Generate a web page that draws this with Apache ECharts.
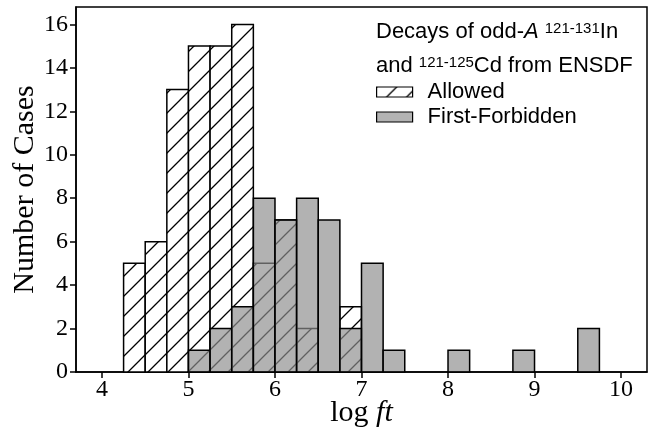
<!DOCTYPE html>
<html>
<head>
<meta charset="utf-8">
<script src="https://cdn.jsdelivr.net/npm/echarts@6/dist/echarts.min.js"></script>
<style>html,body{margin:0;padding:0;background:#fff}#c{width:656px;height:432px}</style>
</head>
<body>
<div id="c"></div>
<script>
// ---- data ----
var binWidth = 0.25;
var allowedBins   = [4.25, 4.5, 4.75, 5.0, 5.25, 5.5, 5.75, 6.0, 6.25, 6.75];
var allowedCounts = [5,    6,   13,   15,  15,   16,  5,    7,   2,    3];
var forbiddenBins   = [5.0, 5.25, 5.5, 5.75, 6.0, 6.25, 6.5, 6.75, 7.0, 7.25, 8.0, 8.75, 9.5];
var forbiddenCounts = [1,   2,    3,   8,    7,   8,    7,   2,    5,   1,    1,   1,    2];
var xTicks = [4, 5, 6, 7, 8, 9, 10];
var seriesNames = ['Allowed', 'First-Forbidden'];

// hatch pattern
var tile = document.createElement('canvas');
tile.width = 20; tile.height = 20;
var g = tile.getContext('2d');
g.fillStyle = '#fff'; g.fillRect(0, 0, 20, 20);
g.strokeStyle = '#000'; g.lineWidth = 1.3;
g.beginPath();
g.moveTo(-5, 25); g.lineTo(25, -5);
g.moveTo(-5, 5); g.lineTo(5, -5);
g.moveTo(15, 25); g.lineTo(25, 15);
g.stroke();
var hatch = { image: tile, repeat: 'repeat' };
var grayFill = 'rgba(142,142,142,0.68)';

function toData(bins, counts) {
  var d = [];
  for (var i = 0; i < bins.length; i++) d.push([bins[i], counts[i]]);
  return d;
}
function makeRender(fill) {
  return function (params, api) {
    var x0 = api.value(0), y = api.value(1);
    var p0 = api.coord([x0, y]);
    var p1 = api.coord([x0 + binWidth, 0]);
    return {
      type: 'rect',
      shape: { x: p0[0], y: p0[1], width: p1[0] - p0[0], height: p1[1] - p0[1] },
      style: { fill: fill, stroke: '#000', lineWidth: 1.5 }
    };
  };
}

var sans = 'Liberation Sans';
var richTitle = {
  n: { fontFamily: sans, fontSize: 22, color: '#000', verticalAlign: 'bottom', lineHeight: 22 },
  i: { fontFamily: sans, fontSize: 22, fontStyle: 'italic', color: '#000', verticalAlign: 'bottom', lineHeight: 22 },
  sup: { fontFamily: sans, fontSize: 15, color: '#000', verticalAlign: 'top', lineHeight: 22 }
};

var chart = echarts.init(document.getElementById('c'), null, { renderer: 'canvas' });
chart.setOption({
  animation: false,
  backgroundColor: '#fff',
  title: {
    text: '{n|Decays of odd-}{i|A}{n| }{sup|121-131}{n|In}',
    subtext: '{n|and }{sup|121-125}{n|Cd from ENSDF}',
    left: 376, top: 21, padding: 0, itemGap: 12,
    textStyle: { fontFamily: sans, fontSize: 22, fontWeight: 'normal', color: '#000', lineHeight: 22, rich: richTitle },
    subtextStyle: { fontFamily: sans, fontSize: 22, color: '#000', lineHeight: 22, rich: richTitle }
  },
  legend: {
    orient: 'vertical',
    left: 376, top: 81, padding: 0,
    itemWidth: 36, itemHeight: 10, itemGap: 3,
    icon: 'rect',
    data: seriesNames,
    textStyle: { fontFamily: sans, fontSize: 22, color: '#000', lineHeight: 22, padding: [0, 0, 0, 10] },
    itemStyle: { borderColor: '#000', borderWidth: 1.2 }
  },
  grid: { left: 76, right: 9, top: 7, bottom: 60, outerBoundsMode: 'none', containLabel: false,
    show: true, borderColor: '#000', borderWidth: 1.5, backgroundColor: 'transparent' },
  xAxis: {
    type: 'value', min: 3.7, max: 10.3,
    splitLine: { show: false },
    axisLine: { lineStyle: { color: '#000', width: 1.5 } },
    axisTick: { show: true, customValues: xTicks, length: 6, inside: false, lineStyle: { color: '#000', width: 1.5 } },
    axisLabel: { customValues: xTicks, fontFamily: 'Liberation Serif', fontSize: 24, color: '#000', margin: 6 },
    name: 'log {i|ft}', nameLocation: 'middle', nameGap: 26, nameMoveOverlap: false,
    nameTextStyle: { fontFamily: 'Liberation Serif', fontSize: 30, color: '#000',
      rich: { i: { fontFamily: 'Liberation Serif', fontSize: 30, fontStyle: 'italic', color: '#000' } } }
  },
  yAxis: {
    type: 'value', min: 0, max: 16.8, interval: 2,
    splitLine: { show: false },
    axisLine: { show: true, lineStyle: { color: '#000', width: 1.5 } },
    axisTick: { show: true, length: 6, lineStyle: { color: '#000', width: 1.5 } },
    axisLabel: { fontFamily: 'Liberation Serif', fontSize: 24, color: '#000', margin: 8, showMaxLabel: false },
    name: 'Number of Cases', nameLocation: 'middle', nameGap: 36, nameMoveOverlap: false,
    nameTextStyle: { fontFamily: 'Liberation Serif', fontSize: 30, color: '#000' }
  },
  series: [
    { name: seriesNames[0], type: 'custom', renderItem: makeRender(hatch), itemStyle: { color: hatch },
      encode: { x: 0, y: 1 }, data: toData(allowedBins, allowedCounts), z: 2 },
    { name: seriesNames[1], type: 'custom', renderItem: makeRender(grayFill), itemStyle: { color: '#b3b3b3' },
      encode: { x: 0, y: 1 }, data: toData(forbiddenBins, forbiddenCounts), z: 3 }
  ]
});
</script>
</body>
</html>
